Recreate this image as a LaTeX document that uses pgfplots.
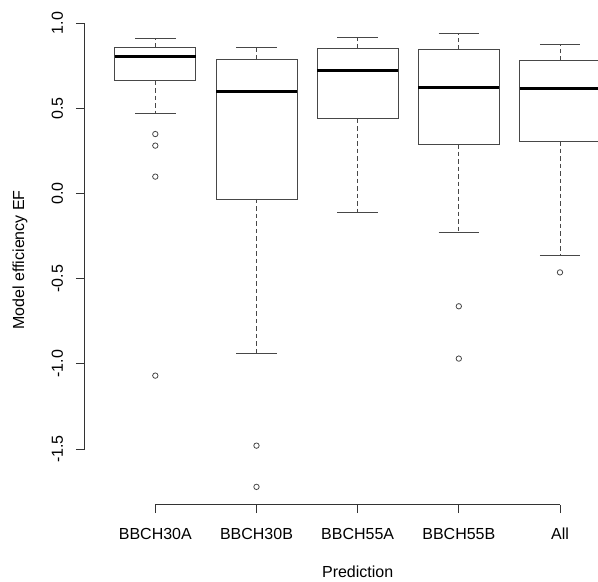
\documentclass[border=0pt]{standalone}
\usepackage{fontspec}
\setmainfont{Liberation Sans}
\usepackage{pgfplots}
\pgfplotsset{compat=1.18}
\usepgfplotslibrary{statistics}

\colorlet{boxline}{black!72}

% R-like boxplot: dashed whiskers, solid staples, heavy median
\pgfplotsset{
  rbox/.style={
    draw=boxline, line width=0.9bp, solid,
    boxplot/draw direction=y,
    boxplot/box extend=0.8,
    boxplot/every median/.style={draw=black, line width=3bp},
    boxplot/draw/lower whisker/.code={%
      \draw[dash pattern=on 4.5bp off 3bp]
        (boxplot cs:\pgfplotsboxplotvalue{lower quartile},0) --
        (boxplot cs:\pgfplotsboxplotvalue{lower whisker},0);
      \draw (boxplot cs:\pgfplotsboxplotvalue{lower whisker},-0.2) --
        (boxplot cs:\pgfplotsboxplotvalue{lower whisker},0.2);
    },
    boxplot/draw/upper whisker/.code={%
      \draw[dash pattern=on 4.5bp off 3bp]
        (boxplot cs:\pgfplotsboxplotvalue{upper quartile},0) --
        (boxplot cs:\pgfplotsboxplotvalue{upper whisker},0);
      \draw (boxplot cs:\pgfplotsboxplotvalue{upper whisker},-0.2) --
        (boxplot cs:\pgfplotsboxplotvalue{upper whisker},0.2);
    },
    mark=o, mark size=2.7bp,
    mark options={solid, draw=boxline, line width=0.8bp},
  },
}

\begin{document}
\begin{tikzpicture}[font=\fontsize{16bp}{19bp}\selectfont]
\useasboundingbox (0,0) rectangle (598bp,582bp);
\begin{axis}[
  at={(84.5bp,77.4bp)}, anchor=south west,
  scale only axis, width=546.3bp, height=489.3bp,
  xmin=0.3, xmax=5.7, ymin=-1.826, ymax=1.046,
  axis line style={draw=none},
  clip=false,
  tick align=outside, major tick length=8.5bp,
  xtick pos=bottom, ytick pos=left,
  tick style={draw=black!80, line width=0.8bp},
  xtick={1,2,3,4,5},
  xticklabels={BBCH30A,BBCH30B,BBCH55A,BBCH55B,All},
  xticklabel style={anchor=base, yshift=-26bp},
  ytick={-1.5,-1,-0.5,0,0.5,1},
  /pgf/number format/assume math mode=true,
  yticklabel style={/pgf/number format/.cd, fixed, fixed zerofill, precision=1,
    /tikz/.cd, xshift=-13bp, rotate=90, anchor=base},
  xlabel={Prediction}, ylabel={Model efficiency EF},
  every axis x label/.style={at={(axis description cs:0.5,-0.150)}, anchor=base},
  every axis y label/.style={at={(axis description cs:-0.1181,0.5)}, rotate=90, anchor=center},
]
\draw[black!80, line width=0.8bp] (axis cs:0.3,-1.5) -- (axis cs:0.3,1);
\draw[black!80, line width=0.8bp] (axis cs:1,-1.826) -- (axis cs:5,-1.826);

% BBCH30A
\addplot[rbox, boxplot prepared={draw position=1,
  lower whisker=0.468, lower quartile=0.662, median=0.803,
  upper quartile=0.858, upper whisker=0.911}]
  coordinates {(0,0.349) (0,0.281) (0,0.099) (0,-1.069)};
% BBCH30B
\addplot[rbox, boxplot prepared={draw position=2,
  lower whisker=-0.940, lower quartile=-0.032, median=0.597,
  upper quartile=0.788, upper whisker=0.858}]
  coordinates {(0,-1.480) (0,-1.722)};
% BBCH55A
\addplot[rbox, boxplot prepared={draw position=3,
  lower whisker=-0.114, lower quartile=0.439, median=0.721,
  upper quartile=0.850, upper whisker=0.917}]
  coordinates {};
% BBCH55B
\addplot[rbox, boxplot prepared={draw position=4,
  lower whisker=-0.226, lower quartile=0.290, median=0.621,
  upper quartile=0.844, upper whisker=0.938}]
  coordinates {(0,-0.662) (0,-0.969)};
% All
\addplot[rbox, boxplot prepared={draw position=5,
  lower whisker=-0.363, lower quartile=0.308, median=0.615,
  upper quartile=0.779, upper whisker=0.873}]
  coordinates {(0,-0.463)};
\end{axis}
\end{tikzpicture}
\end{document}
